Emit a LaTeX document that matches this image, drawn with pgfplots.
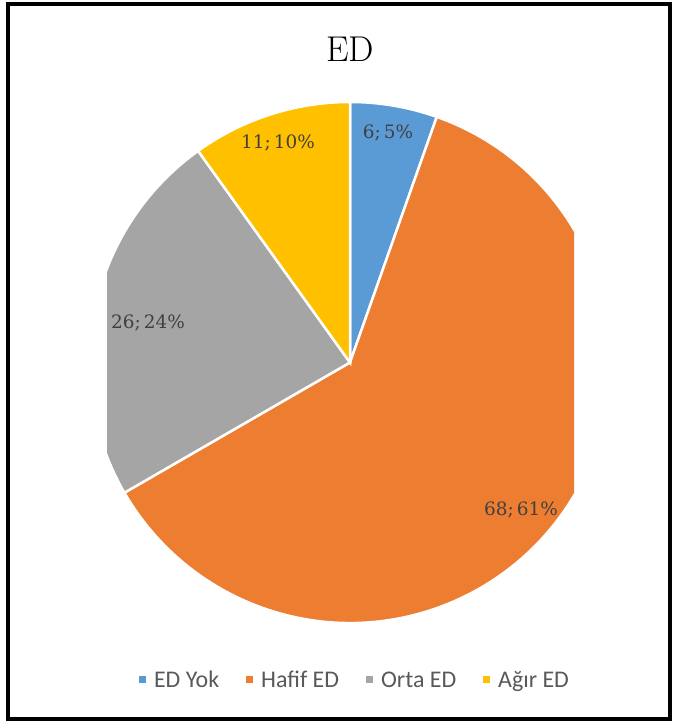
\documentclass[border=0pt]{standalone}
\usepackage{pgfplots}
\pgfplotsset{compat=1.18}
\usepackage{fontspec}
\newfontfamily\legfont{Carlito}
\newfontfamily\labfont{DejaVu Serif}
\definecolor{cblue}{HTML}{5B9BD5}
\definecolor{corange}{HTML}{ED7D31}
\definecolor{cgray}{HTML}{A5A5A5}
\definecolor{cyellow}{HTML}{FFC000}
% data: ED Yok, Hafif ED, Orta ED, Agir ED
\def\vA{6}\def\vB{68}\def\vC{26}\def\vD{11}
\pgfmathsetmacro\tot{\vA+\vB+\vC+\vD}
\pgfmathsetmacro\aA{90}
\pgfmathsetmacro\aB{\aA-360/\tot*\vA}
\pgfmathsetmacro\aC{\aB-360/\tot*\vB}
\pgfmathsetmacro\aD{\aC-360/\tot*\vC}
\pgfmathsetmacro\aE{\aD-360/\tot*\vD}
\def\cx{350}\def\cy{359.5}\def\R{260.5bp}
\begin{document}
\begin{tikzpicture}
\begin{axis}[width=674bp,height=722bp,scale only axis,
  xmin=0,xmax=674,ymin=0,ymax=722,hide axis,clip=false,
  legend style={at={(axis cs:355,42)},anchor=center,draw=none,fill=none,
    font=\legfont\fontsize{24}{28}\selectfont,text=black!65,
    /tikz/every even column/.append style={column sep=25bp}},
  legend columns=4,
  legend image code/.code={\path[#1] (0bp,-3.5bp) rectangle (7bp,3.5bp);\path (13bp,0bp);}]
\addlegendimage{fill=cblue,draw=none}\addlegendentry{ED Yok}
\addlegendimage{fill=corange,draw=none}\addlegendentry{Hafif ED}
\addlegendimage{fill=cgray,draw=none}\addlegendentry{Orta ED}
\addlegendimage{fill=cyellow,draw=none}\addlegendentry{Ağır ED}
\begin{scope}
\clip (axis cs:107,0) rectangle (axis cs:574,722);
\filldraw[fill=cblue,draw=white,line width=2.5bp] (axis cs:\cx,\cy) -- +(\aA:\R) arc[start angle=\aA,end angle=\aB,radius=\R] -- cycle;
\filldraw[fill=corange,draw=white,line width=2.5bp] (axis cs:\cx,\cy) -- +(\aB:\R) arc[start angle=\aB,end angle=\aC,radius=\R] -- cycle;
\filldraw[fill=cgray,draw=white,line width=2.5bp] (axis cs:\cx,\cy) -- +(\aC:\R) arc[start angle=\aC,end angle=\aD,radius=\R] -- cycle;
\filldraw[fill=cyellow,draw=white,line width=2.5bp] (axis cs:\cx,\cy) -- +(\aD:\R) arc[start angle=\aD,end angle=\aE,radius=\R] -- cycle;
\end{scope}
\node[font=\labfont\fontsize{18.5}{22}\selectfont,text=black!75] at (axis cs:388,589) {6;\,5\%};
\node[font=\labfont\fontsize{18.5}{22}\selectfont,text=black!75] at (axis cs:521,212) {68;\,61\%};
\node[font=\labfont\fontsize{18.5}{22}\selectfont,text=black!75] at (axis cs:148,399) {26;\,24\%};
\node[font=\labfont\fontsize{18.5}{22}\selectfont,text=black!75] at (axis cs:278,579) {11;\,10\%};
\node[font=\fontsize{36}{40}\selectfont] at (axis cs:350,673) {ED};
\draw[line width=4bp] (axis cs:8,3) rectangle (axis cs:670,718);
\end{axis}
\pgfresetboundingbox
\path (current axis.south west) rectangle (current axis.north east);
\end{tikzpicture}
\end{document}
